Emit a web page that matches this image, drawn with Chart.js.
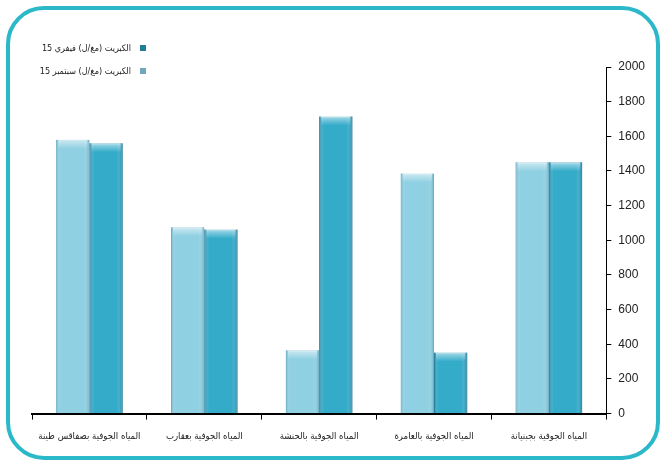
<!DOCTYPE html>
<html>
<head>
<meta charset="utf-8">
<script src="https://cdn.jsdelivr.net/npm/chart.js@4.4.1/dist/chart.umd.min.js"></script>
<style>
  html, body { margin: 0; padding: 0; background: #fff; }
  #wrap { position: relative; width: 664px; height: 464px; overflow: hidden; }
  #frame {
    position: absolute; left: 6px; top: 6px; width: 654px; height: 454px;
    border: 4px solid #2bb8c9; border-radius: 38px; box-sizing: border-box;
    pointer-events: none;
  }
  #legend {
    position: absolute; left: 30px; top: 36px; direction: rtl;
    font-family: "DejaVu Sans Condensed", "DejaVu Sans", sans-serif; font-size: 9px; color: #222;
    width: 116px; white-space: nowrap;
  }
  .item { display: flex; align-items: center; height: 23px; }
  .box { width: 6px; height: 6px; margin-left: 9px; flex: none; }
</style>
</head>
<body>
<div id="wrap">
  <canvas id="chart" width="664" height="464"></canvas>
  <div id="frame"></div>
  <div id="legend"></div>
</div>
<script>
var labels = [
  'المياه الجوفية بصفاقس طينة',
  'المياه الجوفية بعقارب',
  'المياه الجوفية بالحنشة',
  'المياه الجوفية بالعامرة',
  'المياه الجوفية بجبنيانة'
];
var sepValues = [1580, 1075, 365, 1385, 1450];
var febValues = [1560, 1062, 1715, 352, 1450];
var sepLabel = 'الكبريت (مغ/ل) سبتمبر 15';
var febLabel = 'الكبريت (مغ/ل) فيفري 15';
var yTicks = [0, 200, 400, 600, 800, 1000, 1200, 1400, 1600, 1800, 2000];

// soft edges and a lighter cap on top of every bar
var shading = {
  id: 'shading',
  afterDatasetsDraw: function (chart) {
    var ctx = chart.ctx;
    chart.data.datasets.forEach(function (ds, i) {
      chart.getDatasetMeta(i).data.forEach(function (bar) {
        var left = bar.x - bar.width / 2;
        var h = bar.base - bar.y;
        var g = ctx.createLinearGradient(left, 0, left + bar.width, 0);
        g.addColorStop(0, ds.edge);
        g.addColorStop(0.14, 'rgba(255,255,255,0)');
        g.addColorStop(0.82, 'rgba(255,255,255,0)');
        g.addColorStop(1, ds.edge);
        ctx.save();
        ctx.fillStyle = g;
        ctx.fillRect(left, bar.y, bar.width, h);
        var cap = ctx.createLinearGradient(0, bar.y, 0, bar.y + 9);
        cap.addColorStop(0, 'rgba(255,255,255,0.55)');
        cap.addColorStop(1, 'rgba(255,255,255,0)');
        ctx.fillStyle = cap;
        ctx.fillRect(left + 2, bar.y, bar.width - 4, Math.min(9, h));
        ctx.restore();
      });
    });
  }
};

var data = {
  labels: labels,
  datasets: [
    {
      label: sepLabel,
      data: sepValues,
      backgroundColor: '#8fd0e2',
      edge: 'rgba(60,140,170,0.45)',
      borderColor: '#7fc0d4',
      borderWidth: 1
    },
    {
      label: febLabel,
      data: febValues,
      backgroundColor: '#33abc9',
      edge: 'rgba(10,80,110,0.45)',
      borderColor: '#2a97b5',
      borderWidth: 1
    }
  ]
};

var config = {
  type: 'bar',
  data: data,
  plugins: [shading],
  options: {
    responsive: false,
    animation: false,
    layout: { padding: { left: 32, right: 12, top: 67, bottom: 11 } },
    plugins: {
      legend: { display: false },
      tooltip: { enabled: false }
    },
    datasets: {
      bar: { categoryPercentage: 0.58, barPercentage: 1.0 }
    },
    scales: {
      x: {
        grid: { offset: true, drawOnChartArea: false, drawTicks: true, tickLength: 6, color: '#000' },
        border: { display: true, color: '#000', width: 2 },
        ticks: {
          color: '#222', padding: 11, maxRotation: 0,
          font: { family: '"DejaVu Sans Condensed", "DejaVu Sans", sans-serif', size: 9.5 }
        }
      },
      y: {
        position: 'right',
        min: 0,
        max: 2000,
        afterBuildTicks: function (axis) {
          axis.ticks = yTicks.map(function (v) { return { value: v }; });
        },
        grid: { drawOnChartArea: false, drawTicks: true, tickLength: 5, color: '#000' },
        border: { display: true, color: '#000', width: 1 },
        ticks: {
          color: '#222', padding: 7,
          font: { family: '"Liberation Sans", Arial, sans-serif', size: 12 },
          callback: function (v) { return String(v); }
        }
      }
    }
  }
};

var myChart = new Chart(document.getElementById('chart'), config);

// legend, listed with the February series first
var legend = document.getElementById('legend');
[1, 0].forEach(function (i) {
  var ds = data.datasets[i];
  var row = document.createElement('div');
  row.className = 'item';
  var box = document.createElement('span');
  box.className = 'box';
  box.style.background = i === 1 ? '#1f7f98' : '#6fa8bc';
  var txt = document.createElement('span');
  txt.textContent = ds.label;
  row.appendChild(box);
  row.appendChild(txt);
  legend.appendChild(row);
});
</script>
</body>
</html>
